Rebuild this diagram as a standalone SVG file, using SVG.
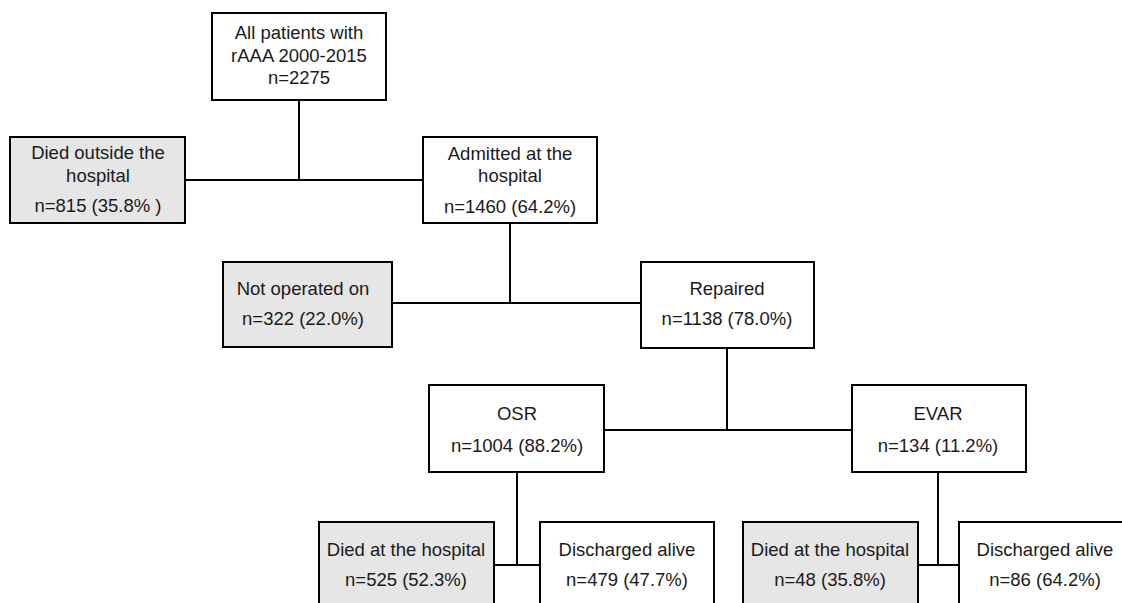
<svg xmlns="http://www.w3.org/2000/svg" width="1122" height="603" viewBox="0 0 1122 603">
  <style>
    .box { fill: #ffffff; stroke: #000000; stroke-width: 2; }
    .box.dead { fill: #e6e6e6; }
    .lbl { font-family: "Liberation Sans", Arial, sans-serif; font-size: 18.5px; fill: #1a1a1a; text-anchor: middle; }
    .wire { fill: none; stroke: #000000; stroke-width: 2; }
  </style>
  <rect width="1122" height="603" fill="#ffffff"/>

  <!-- connectors -->
  <g id="connectors">
    <path class="wire" d="M299 100 V180"/>
    <path class="wire" d="M185 180 H423"/>
    <path class="wire" d="M510 223 V303"/>
    <path class="wire" d="M392 303 H641"/>
    <path class="wire" d="M727 348 V430"/>
    <path class="wire" d="M604 430 H852"/>
    <path class="wire" d="M517 472 V565"/>
    <path class="wire" d="M494 565 H540"/>
    <path class="wire" d="M938 472 V565"/>
    <path class="wire" d="M918 565 H959"/>
  </g>

  <g id="all-patients">
    <rect class="box" x="212" y="13" width="174" height="87"/>
    <text class="lbl" x="299" y="39">All patients with</text>
    <text class="lbl" x="299" y="62">rAAA 2000-2015</text>
    <text class="lbl" x="299" y="84">n=2275</text>
  </g>

  <g id="died-outside">
    <rect class="box dead" x="10" y="137" width="175" height="86"/>
    <text class="lbl" x="98" y="159">Died outside the</text>
    <text class="lbl" x="98" y="182">hospital</text>
    <text class="lbl" x="98" y="212">n=815 (35.8% )</text>
  </g>

  <g id="admitted">
    <rect class="box" x="423" y="137" width="174" height="86"/>
    <text class="lbl" x="510" y="160">Admitted at the</text>
    <text class="lbl" x="510" y="182">hospital</text>
    <text class="lbl" x="510" y="213">n=1460 (64.2%)</text>
  </g>

  <g id="not-operated">
    <rect class="box dead" x="223" y="262" width="169" height="85"/>
    <text class="lbl" x="303" y="295">Not operated on</text>
    <text class="lbl" x="303" y="325">n=322 (22.0%)</text>
  </g>

  <g id="repaired">
    <rect class="box" x="641" y="262" width="173" height="86"/>
    <text class="lbl" x="727" y="295">Repaired</text>
    <text class="lbl" x="727" y="325">n=1138 (78.0%)</text>
  </g>

  <g id="osr">
    <rect class="box" x="429" y="385" width="175" height="87"/>
    <text class="lbl" x="517" y="420">OSR</text>
    <text class="lbl" x="517" y="452">n=1004 (88.2%)</text>
  </g>

  <g id="evar">
    <rect class="box" x="852" y="385" width="174" height="87"/>
    <text class="lbl" x="938" y="420">EVAR</text>
    <text class="lbl" x="938" y="452">n=134 (11.2%)</text>
  </g>

  <g id="osr-died">
    <rect class="box dead" x="319" y="522" width="175" height="100"/>
    <text class="lbl" x="406" y="556">Died at the hospital</text>
    <text class="lbl" x="406" y="586">n=525 (52.3%)</text>
  </g>

  <g id="osr-discharged">
    <rect class="box" x="540" y="522" width="174" height="100"/>
    <text class="lbl" x="627" y="556">Discharged alive</text>
    <text class="lbl" x="627" y="586">n=479 (47.7%)</text>
  </g>

  <g id="evar-died">
    <rect class="box dead" x="743" y="522" width="175" height="100"/>
    <text class="lbl" x="830" y="556">Died at the hospital</text>
    <text class="lbl" x="830" y="586">n=48 (35.8%)</text>
  </g>

  <g id="evar-discharged">
    <rect class="box" x="959" y="522" width="180" height="100"/>
    <text class="lbl" x="1045" y="556">Discharged alive</text>
    <text class="lbl" x="1045" y="586">n=86 (64.2%)</text>
  </g>
</svg>
